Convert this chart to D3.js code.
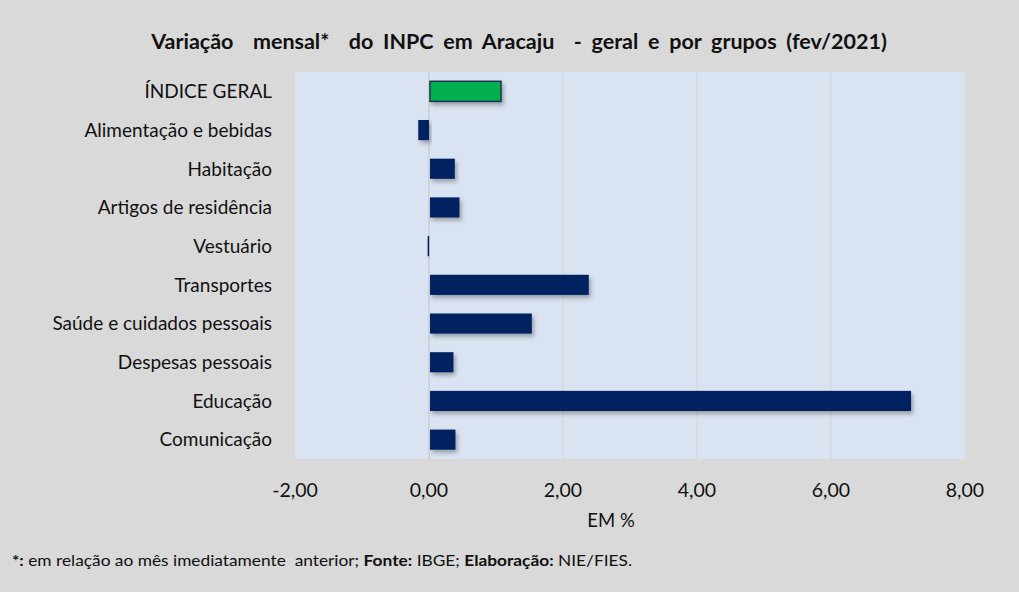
<!DOCTYPE html>
<html><head><meta charset="utf-8">
<script src="https://cdn.jsdelivr.net/npm/d3@7"></script>
<style>
html,body{margin:0;padding:0;background:#D9D9D9;}
text{font-family:Lato,"Open Sans",sans-serif;fill:#111;}
</style></head>
<body>
<svg id="chart" width="1019" height="592"></svg>
<script>
const categories = ["ÍNDICE GERAL","Alimentação e bebidas","Habitação","Artigos de residência","Vestuário","Transportes","Saúde e cuidados pessoais","Despesas pessoais","Educação","Comunicação"];
const values = [1.06,-0.16,0.37,0.44,-0.02,2.37,1.52,0.35,7.18,0.38];
const xTicks = [-2,0,2,4,6,8];
const title = "Variação  mensal*  do INPC em Aracaju  - geral e por grupos (fev/2021)";
const xAxisTitle = "EM %";

const svg = d3.select("#chart");
svg.append("rect").attr("width",1019).attr("height",592).attr("fill","#D9D9D9");

const defs = svg.append("defs");
const f = defs.append("filter").attr("id","sh").attr("x","-20%").attr("y","-40%").attr("width","140%").attr("height","200%");
f.append("feDropShadow").attr("dx",2).attr("dy",3).attr("stdDeviation",2).attr("flood-color","#000").attr("flood-opacity",0.3);

const m = {l:295, r:965, t:72, b:459};
const x = d3.scaleLinear().domain([-2,8]).range([m.l,m.r]);
const y = d3.scaleBand().domain(categories).range([m.t,m.b]).paddingInner(0.48).paddingOuter(0.24);

svg.append("rect").attr("x",m.l).attr("y",m.t).attr("width",m.r-m.l).attr("height",m.b-m.t).attr("fill","#DAE3F1");

// gridlines
svg.append("g").selectAll("line").data(xTicks.filter(d=>d>-2 && d<8)).join("line")
  .attr("x1",d=>x(d)).attr("x2",d=>x(d)).attr("y1",m.t).attr("y2",m.b)
  .attr("stroke",d=>d===0?"#C4C4C4":"#D3D3D3").attr("stroke-width",1);

// bars
svg.append("g").selectAll("rect").data(values).join("rect")
  .attr("x",d=>x(Math.min(0,d))+(d>=0?1:0))
  .attr("y",(d,i)=>y(categories[i]))
  .attr("width",d=>Math.max(1.5,Math.abs(x(d)-x(0))))
  .attr("height",y.bandwidth())
  .attr("fill",(d,i)=>i===0?"#00B050":"#002060")
  .attr("stroke",(d,i)=>i===0?"#1F3350":"none")
  .attr("stroke-width",1.5)
  .attr("filter","url(#sh)");

// category labels
svg.append("g").selectAll("text").data(categories).join("text")
  .attr("x",272).attr("y",d=>y(d)+y.bandwidth()/2)
  .attr("dy","0.36em").attr("text-anchor","end")
  .attr("font-size",19).text(d=>d);

// x axis labels
const fmt = d=>d3.format(".2f")(d).replace(".",",").replace("−","-");
svg.append("g").selectAll("text").data(xTicks).join("text")
  .attr("x",d=>x(d)).attr("y",497).attr("text-anchor","middle")
  .attr("font-size",19.5).text(fmt);

svg.append("text").attr("x",611).attr("y",527).attr("text-anchor","middle").attr("font-size",18.5).text(xAxisTitle);

svg.append("text").attr("x",519).attr("y",49).attr("text-anchor","middle")
  .attr("font-size",21.5).attr("font-weight","bold").attr("word-spacing",4.5)
  .style("white-space","pre").text(title);

const foot = svg.append("text").attr("x",12).attr("y",566).attr("font-size",15)
  .attr("textLength",620).attr("lengthAdjust","spacingAndGlyphs").style("white-space","pre");
foot.append("tspan").attr("font-weight","bold").text("*:");
foot.append("tspan").text(" em relação ao mês imediatamente  anterior; ");
foot.append("tspan").attr("font-weight","bold").text("Fonte:");
foot.append("tspan").text(" IBGE; ");
foot.append("tspan").attr("font-weight","bold").text("Elaboração:");
foot.append("tspan").text(" NIE/FIES.");
</script>
</body></html>
